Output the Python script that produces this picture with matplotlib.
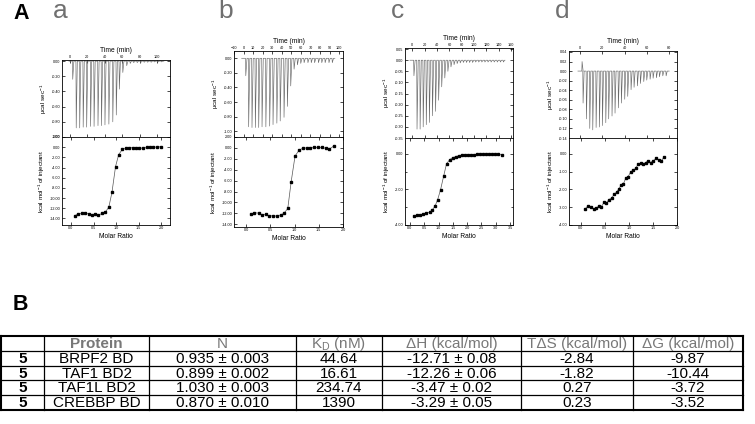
import numpy as np
import matplotlib.pyplot as plt
from matplotlib.ticker import MultipleLocator, FormatStrFormatter

plt.rcParams['font.family'] = ['Liberation Sans', 'DejaVu Sans']
plt.rcParams['mathtext.fontset'] = 'custom'
plt.rcParams['mathtext.rm'] = 'Liberation Sans'

W, H = 755, 424

# --- a : BRPF2 BD ---
a_time = [3, 7, 11, 15, 19, 23.5, 27.5, 32, 36, 40, 44.5, 49, 53, 56.5, 60.5, 65, 69, 73, 77, 81, 85, 89, 93, 97, 101, 105]
a_peak = [-0.24, -0.88, -0.88, -0.87, -0.87, -0.86, -0.86, -0.85, -0.85, -0.84, -0.83, -0.80, -0.71,
          -0.37, -0.15, -0.06, -0.03, -0.02, -0.02, -0.02, -0.015, -0.015, -0.015, -0.01, -0.01, -0.01]
a_ratio = [0.08, 0.16, 0.24, 0.31, 0.39, 0.47, 0.54, 0.61, 0.69, 0.76, 0.84, 0.91, 0.99,
           1.06, 1.14, 1.22, 1.29, 1.37, 1.45, 1.52, 1.60, 1.68, 1.75, 1.83, 1.91, 2.0]
a_heat = [-13.5, -13.1, -13.0, -13.0, -13.1, -13.4, -13.1, -13.4, -13.0, -12.8, -11.8, -8.9, -3.8,
          -1.45, -0.45, -0.2, -0.13, -0.1, -0.1, -0.1, -0.25, -0.05, -0.05, 0.05, 0.0, 0.1]

# --- b : TAF1 BD2 ---
b_time = [2, 5, 8.5, 12, 15.5, 19, 23, 27, 30.5, 34.5, 38, 42, 45.5, 49, 52.5, 56, 59.5, 63, 67,
          70.5, 74, 78, 81.5, 85, 89, 92.5]
b_peak = [-0.24, -0.94, -0.95, -0.95, -0.95, -0.94, -0.94, -0.93, -0.91, -0.89, -0.86, -0.81, -0.66,
          -0.38, -0.15, -0.09, -0.07, -0.06, -0.06, -0.06, -0.06, -0.06, -0.06, -0.06, -0.06, -0.06]
b_ratio = [0.10, 0.17, 0.26, 0.33, 0.41, 0.48, 0.56, 0.63, 0.71, 0.78, 0.86, 0.93, 1.01, 1.09,
           1.17, 1.25, 1.32, 1.41, 1.48, 1.57, 1.65, 1.72, 1.81]
b_heat = [-12.1, -11.9, -11.95, -12.25, -12.2, -12.45, -12.45, -12.5, -12.3, -12.0, -11.1, -6.2,
          -1.5, -0.45, -0.05, 0.0, -0.05, 0.1, 0.1, 0.1, -0.1, -0.2, 0.35]

# --- c : TAF1L BD2 ---
c_time = [2, 7, 12, 17, 22, 27, 32, 37, 42, 47, 52, 57, 62, 67, 72, 77, 82, 87, 92, 97, 102, 107,
          112, 117, 122, 127, 132, 137, 142, 147]
c_peak = [-0.07, -0.31, -0.31, -0.30, -0.29, -0.28, -0.25, -0.23, -0.18, -0.12, -0.08, -0.05, -0.03,
          -0.02, -0.015, -0.012, -0.01, -0.01, -0.01, -0.01, -0.008, -0.008, -0.008, -0.008, -0.008,
          -0.008, -0.008, -0.008, -0.008, -0.008]
c_ratio = [0.14, 0.26, 0.36, 0.47, 0.58, 0.69, 0.78, 0.88, 0.97, 1.07, 1.18, 1.28, 1.39, 1.49, 1.60,
           1.70, 1.81, 1.91, 2.02, 2.12, 2.23, 2.33, 2.45, 2.56, 2.66, 2.77, 2.87, 2.98, 3.08, 3.20]
c_heat = [-3.47, -3.45, -3.43, -3.39, -3.33, -3.28, -3.16, -2.93, -2.57, -2.02, -1.24, -0.55, -0.32,
          -0.21, -0.15, -0.10, -0.06, -0.06, -0.06, -0.06, -0.06, -0.02, -0.02, -0.02, -0.02, -0.02,
          -0.02, -0.02, -0.02, -0.04]

# --- d : CREBBP BD ---
d_time = [1.5, 2.4, 5.4, 8.4, 11.1, 14.1, 17.1, 19.8, 22.8, 25.4, 28.4, 31.1, 34.1, 36.8, 39.8, 42.5,
          45.5, 48.2, 51.2, 53.9, 56.9, 59.6, 62.6, 65.3, 68.3, 71, 74, 77]
d_peak = [0.02, -0.067, -0.10, -0.12, -0.123, -0.118, -0.117, -0.114, -0.108, -0.10, -0.094, -0.088,
          -0.077, -0.067, -0.059, -0.053, -0.039, -0.034, -0.031, -0.026, -0.022, -0.019, -0.017,
          -0.015, -0.014, -0.012, -0.010, -0.010]
d_ratio = [0.09, 0.15, 0.21, 0.27, 0.32, 0.37, 0.42, 0.48, 0.53, 0.58, 0.64, 0.69, 0.74, 0.79, 0.83,
           0.88, 0.93, 0.98, 1.04, 1.09, 1.14, 1.19, 1.24, 1.30, 1.35, 1.40, 1.45, 1.51, 1.56, 1.62,
           1.67, 1.73]
d_heat = [-3.09, -2.91, -3.01, -3.10, -3.05, -2.93, -2.99, -2.72, -2.76, -2.57, -2.48, -2.27, -2.15,
          -1.96, -1.77, -1.71, -1.37, -1.28, -0.99, -0.93, -0.80, -0.57, -0.53, -0.55, -0.48, -0.38,
          -0.48, -0.38, -0.25, -0.32, -0.42, -0.15]

# table
compound = ['5', '5', '5', '5']
proteins = ['BRPF2 BD', 'TAF1 BD2', 'TAF1L BD2', 'CREBBP BD']
n_vals = ['0.935 \u00b1 0.003', '0.899 \u00b1 0.002', '1.030 \u00b1 0.003', '0.870 \u00b1 0.010']
kd_vals = ['44.64', '16.61', '234.74', '1390']
dh_vals = ['-12.71 \u00b1 0.08', '-12.26 \u00b1 0.06', '-3.47 \u00b1 0.02', '-3.29 \u00b1 0.05']
tds_vals = ['-2.84', '-1.82', '0.27', '0.23']
dg_vals = ['-9.87', '-10.44', '-3.72', '-3.52']
headers = ['', 'Protein', 'N', 'K$_\\mathregular{D}$ (nM)', '\u0394H (kcal/mol)',
           'T\u0394S (kcal/mol)', '\u0394G (kcal/mol)']


def px(x0, y0, x1, y1):
    return [x0 / W, 1 - y1 / H, (x1 - x0) / W, (y1 - y0) / H]


def style(ax):
    for s in ax.spines.values():
        s.set_linewidth(0.6)
    ax.tick_params(which='both', labelsize=2.7, pad=1, width=0.5, direction='in',
                   top=True, right=True)
    ax.tick_params(which='major', length=2.2)
    ax.tick_params(which='minor', length=1.2)


def itc(box, time, peak, width, tlim, tstep, rawlim, rawstep, ratio, heat, rlim, hlim, hstep):
    x0, ytop, ymid, x1, ybot = box
    ax1 = fig.add_axes(px(x0, ytop, x1, ymid))
    ax2 = fig.add_axes(px(x0, ymid, x1, ybot))

    xs, ys = [tlim[0] + 8], [0]
    for t, h in zip(time, peak):
        xs += [t, t + 0.2 * width, t + width]
        ys += [0, h, 0]
    xs.append(time[-1] + 3)
    ys.append(0)
    ax1.plot(xs, ys, color='#6a6a6a', lw=0.45)
    ax1.set_xlim(*tlim)
    ax1.set_ylim(*rawlim)
    ax1.xaxis.tick_top()
    ax1.xaxis.set_label_position('top')
    ax1.xaxis.set_major_locator(MultipleLocator(tstep))
    ax1.yaxis.set_major_locator(MultipleLocator(rawstep))
    ax1.yaxis.set_major_formatter(FormatStrFormatter('%.2f'))
    style(ax1)
    ax1.tick_params(labelbottom=False, labeltop=True, bottom=True)
    ax1.set_xlabel('Time (min)', fontsize=4.8, labelpad=2)
    ax1.set_ylabel('\u00b5cal sec$^{-1}$', fontsize=4.6, labelpad=2)

    ax2.plot(ratio, heat, color='#555555', lw=0.5, marker='s', ms=1.6,
             mfc='black', mec='black')
    ax2.set_xlim(*rlim)
    ax2.set_ylim(*hlim)
    ax2.xaxis.set_major_locator(MultipleLocator(0.5))
    ax2.xaxis.set_major_formatter(FormatStrFormatter('%.1f'))
    ax2.yaxis.set_major_locator(MultipleLocator(hstep))
    ax2.yaxis.set_major_formatter(FormatStrFormatter('%.2f'))
    style(ax2)
    ax2.set_xlabel('Molar Ratio', fontsize=4.8, labelpad=2)
    ax2.set_ylabel('kcal mol$^{-1}$ of injectant', fontsize=4.6, labelpad=2)
    return ax1, ax2


fig = plt.figure(figsize=(W / 100, H / 100), dpi=100)

itc((62, 60, 137, 170, 225), a_time, a_peak, 1.6, (-9, 115), 20, (-1.0, 0.015), 0.2,
    a_ratio, a_heat, (-0.2, 2.2), (-15.3, 2.0), 2)
itc((234, 51, 137, 343, 227), b_time, b_peak, 1.6, (-10, 104), 10, (-1.08, 0.1), 0.2,
    b_ratio, b_heat, (-0.25, 2.0), (-14.5, 2.0), 2)
_, c2 = itc((405, 48, 138, 513, 225), c_time, c_peak, 2.4, (-12, 163), 20, (-0.35, 0.055), 0.05,
            c_ratio, c_heat, (-0.17, 3.6), (-4.0, 0.9), 2)
c2.yaxis.set_minor_locator(MultipleLocator(1))
itc((569, 51, 138, 677, 225), d_time, d_peak, 1.2, (-10, 87), 20, (-0.14, 0.042), 0.02,
    d_ratio, d_heat, (-0.25, 2.0), (-4.0, 0.9), 1)

# overlay for letters and table
ov = fig.add_axes([0, 0, 1, 1])
ov.set_xlim(0, W)
ov.set_ylim(H, 0)
ov.axis('off')

ov.text(13, 19, 'A', fontsize=15.5, fontweight='bold', va='baseline')
ov.text(13, 310, 'B', fontsize=15.5, fontweight='bold', va='baseline')
for x, s in zip([53, 218, 391, 555], ['a', 'b', 'c', 'd']):
    ov.text(x, 18, s, fontsize=19, color='#707070', va='baseline')

cols = [1, 44, 149, 296, 382, 521, 633, 743]
rows = [336, 351, 366, 380, 395, 410]
for y in rows:
    lw = 1.5 if y in (rows[0], rows[-1]) else 0.9
    ov.plot([cols[0], cols[-1]], [y, y], color='black', lw=lw, solid_capstyle='projecting')
for x in cols:
    lw = 1.5 if x in (cols[0], cols[-1]) else 0.9
    ov.plot([x, x], [rows[0], rows[-1]], color='black', lw=lw, solid_capstyle='projecting')

centers = [(cols[i] + cols[i + 1]) / 2 for i in range(len(cols) - 1)]
ymid = [(rows[i] + rows[i + 1]) / 2 for i in range(len(rows) - 1)]
for i, h in enumerate(headers):
    ov.text(centers[i], ymid[0] + 0.5, h, fontsize=11, color='#787878', ha='center', va='center',
            fontweight='bold' if h == 'Protein' else 'normal')
table_cols = [compound, proteins, n_vals, kd_vals, dh_vals, tds_vals, dg_vals]
for j, col in enumerate(table_cols):
    for i, v in enumerate(col):
        ov.text(centers[j], ymid[i + 1] + 0.5, v, fontsize=11, color='black', ha='center',
                va='center', fontweight='bold' if j == 0 else 'normal')

fig.savefig('out.png', dpi=100)
